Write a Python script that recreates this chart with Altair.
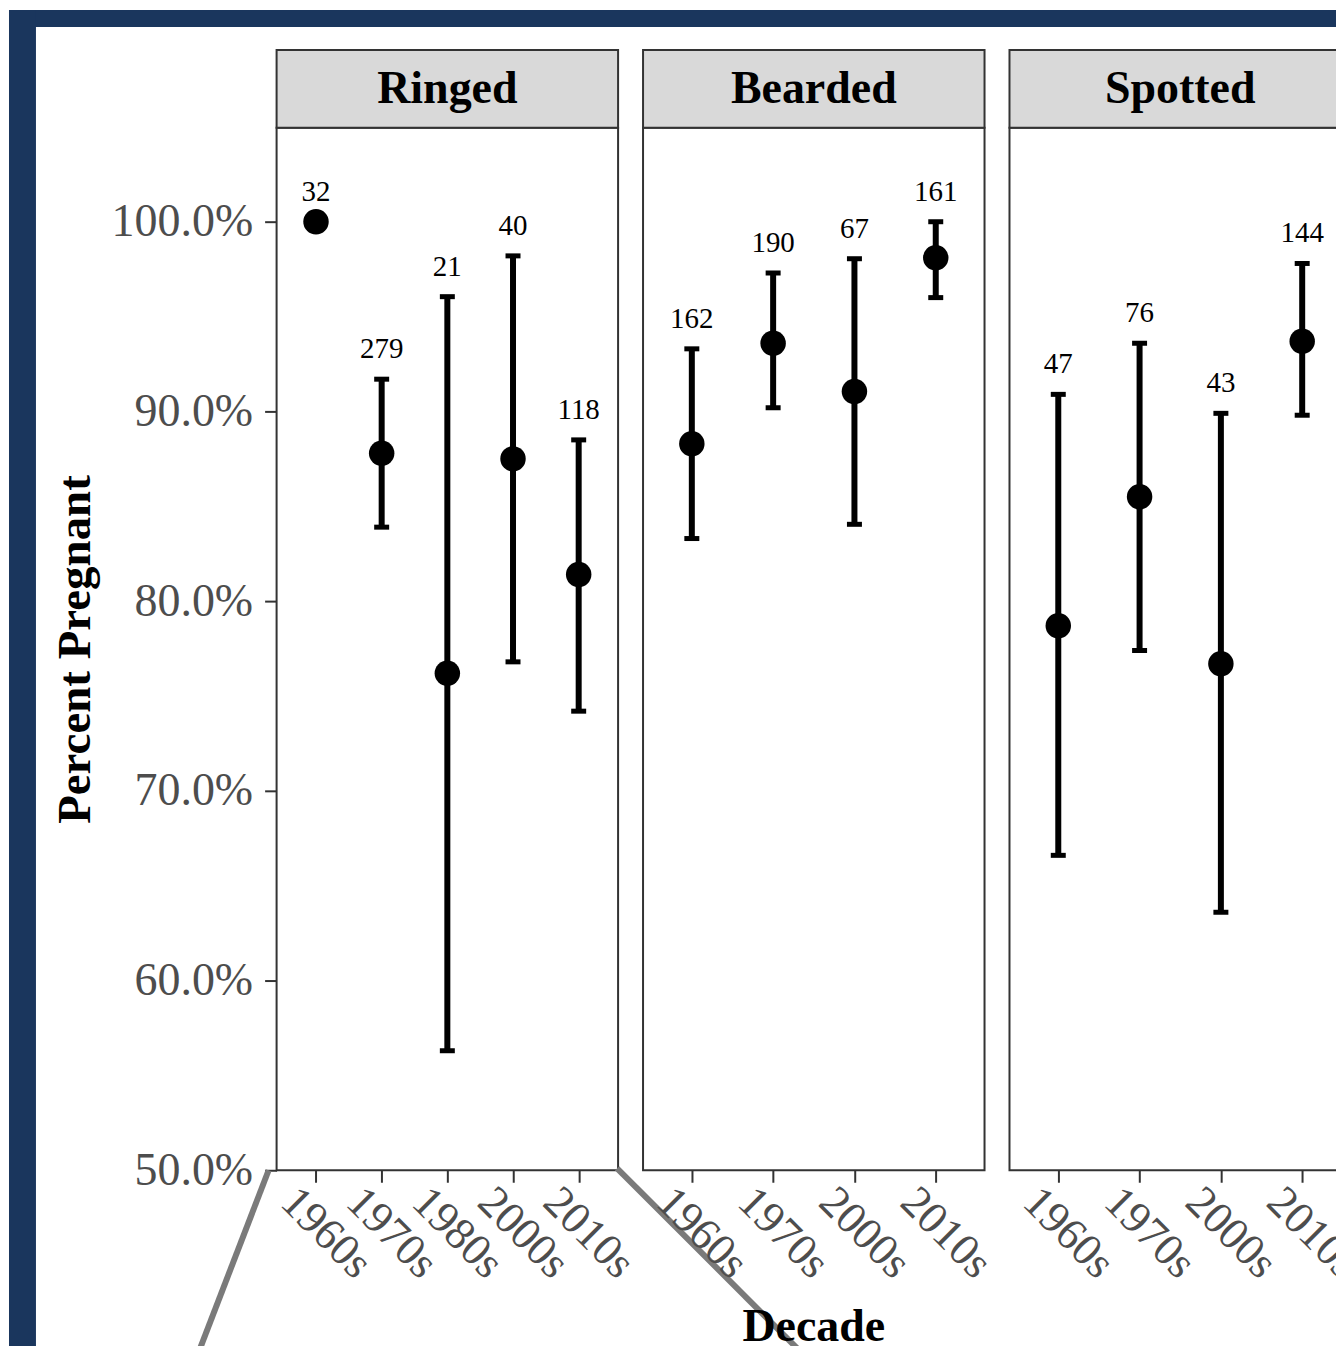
import altair as alt
import pandas as pd

NAVY = "#1a365d"
FONT = "Liberation Serif"

species = ["Ringed", "Bearded", "Spotted"]
all_decades = ["1960s", "1970s", "1980s", "2000s", "2010s"]

ringed_decades = ["1960s", "1970s", "1980s", "2000s", "2010s"]
ringed_est = [100.0, 87.8, 76.2, 87.5, 81.4]
ringed_lo = [100.0, 83.9, 56.3, 76.8, 74.2]
ringed_hi = [100.0, 91.7, 96.05, 98.2, 88.5]
ringed_n = [32, 279, 21, 40, 118]

bearded_decades = ["1960s", "1970s", "2000s", "2010s"]
bearded_est = [88.3, 93.6, 91.05, 98.1]
bearded_lo = [83.3, 90.2, 84.05, 96.0]
bearded_hi = [93.3, 97.3, 98.05, 100.0]
bearded_n = [162, 190, 67, 161]

spotted_decades = ["1960s", "1970s", "2000s", "2010s"]
spotted_est = [78.7, 85.5, 76.7, 93.7]
spotted_lo = [66.6, 77.4, 63.6, 89.8]
spotted_hi = [90.9, 93.6, 89.9, 97.8]
spotted_n = [47, 76, 43, 144]

y_ticks = [50, 60, 70, 80, 90, 100]

PW, PH, HH = 342, 1044, 78
LEFT, TOP = 268, 118           # frame offsets from the first panel's plot origin
RIGHT, BOTTOM = 1300, 1300     # far extents of the frame strips

frames = []
for sp, dec, est, lo, hi, n in [
    ("Ringed", ringed_decades, ringed_est, ringed_lo, ringed_hi, ringed_n),
    ("Bearded", bearded_decades, bearded_est, bearded_lo, bearded_hi, bearded_n),
    ("Spotted", spotted_decades, spotted_est, spotted_lo, spotted_hi, spotted_n),
]:
    frames.append(pd.DataFrame({"species": sp, "decade": dec, "est": est,
                                "lo": lo, "hi": hi, "n": n}))
df = pd.concat(frames, ignore_index=True)

x = alt.X("decade:N", sort=all_decades,
          scale=alt.Scale(type="point", padding=0.6),
          axis=alt.Axis(title=None, labelOverlap=False, labelBound=False, labelFlush=False))
yscale = alt.Scale(domain=[50, 104.95], nice=False, zero=False)
yaxis = alt.Axis(title="Percent Pregnant", values=y_ticks,
                 labelExpr="format(datum.value, '.1f') + '%'",
                 labelFlush=False, labelOverlap=False)


def Y(field):
    return alt.Y(field, scale=yscale, axis=yaxis)


base = alt.Chart()
one_per_panel = "datum.decade == '1960s'"
first_only = "datum.species == 'Ringed' && datum.decade == '1960s'"
middle_only = "datum.species == 'Bearded' && datum.decade == '1960s'"

# decorations: navy frame and grey callout lines (only in the first panel)
top_strip = base.mark_rect(color=NAVY).encode(
    x=alt.value(-LEFT), x2=alt.value(RIGHT), y=alt.value(-TOP), y2=alt.value(-101)
).transform_filter(first_only)
left_strip = base.mark_rect(color=NAVY).encode(
    x=alt.value(-LEFT), x2=alt.value(-241), y=alt.value(-TOP), y2=alt.value(BOTTOM)
).transform_filter(first_only)
left_line = base.mark_rule(color="#7a7a7a", strokeWidth=6).encode(
    x=alt.value(-8), y=alt.value(PH), x2=alt.value(-78), y2=alt.value(PH + 182)
).transform_filter(first_only)
right_line = base.mark_rule(color="#7a7a7a", strokeWidth=6).encode(
    x=alt.value(PW - 1), y=alt.value(PH - 2), x2=alt.value(PW + 190), y2=alt.value(PH + 189)
).transform_filter(first_only)

# strip headers
strip_bg = base.mark_rect(fill="#d9d9d9", stroke="#333333", strokeWidth=2).encode(
    x=alt.value(0), x2=alt.value(PW), y=alt.value(-HH), y2=alt.value(0)
).transform_filter(one_per_panel)
strip_txt = base.mark_text(font=FONT, fontSize=46, fontWeight="bold", color="black",
                           baseline="middle").encode(
    text="species:N", x=alt.value(PW / 2), y=alt.value(-HH / 2)
).transform_filter(one_per_panel)

# x-axis title, shown once under the middle panel
xtitle = base.mark_text(font=FONT, fontSize=46, fontWeight="bold", color="black",
                        baseline="alphabetic").encode(
    text=alt.value("Decade"), x=alt.value(PW / 2), y=alt.value(PH + 171)
).transform_filter(middle_only)

rule = base.mark_rule(color="black", strokeWidth=6).encode(x=x, y=Y("lo:Q"), y2="hi:Q")
cap_lo = base.mark_tick(color="black", size=15, thickness=5, opacity=1).encode(x=x, y=Y("lo:Q"))
cap_hi = base.mark_tick(color="black", size=15, thickness=5, opacity=1).encode(x=x, y=Y("hi:Q"))
pts = base.mark_circle(color="black", size=650, opacity=1).encode(x=x, y=Y("est:Q"))
txt = base.mark_text(color="black", font=FONT, fontSize=29, baseline="alphabetic",
                     dy=-21).encode(x=x, y=Y("hi:Q"), text="n:Q")

layered = alt.layer(
    top_strip, left_strip, left_line, right_line, strip_bg, strip_txt, xtitle,
    rule, cap_lo, cap_hi, pts, txt, data=df
).properties(width=PW, height=PH)

# natural size = (LEFT + RIGHT) x (TOP + BOTTOM); crop to the page like the reference
pad = alt.Padding(left=0, top=0, right=1328 - (LEFT + RIGHT), bottom=1336 - (TOP + BOTTOM))

chart = layered.facet(
    column=alt.Column("species:N", sort=species,
                      header=alt.Header(title=None, labels=False)),
    spacing=25,
).resolve_scale(x="independent").properties(
    bounds="flush", padding=pad, background="white"
).configure_view(
    stroke="#333333", strokeWidth=2, fill="white"
).configure_axis(
    labelFont=FONT, titleFont=FONT, labelColor="#4d4d4d", tickColor="#333333",
    tickWidth=2, tickSize=12, domain=False, grid=False, titleColor="black",
    titleFontWeight="bold"
).configure_axisX(
    labelAngle=45, labelAlign="left", labelBaseline="middle", labelFontSize=45,
    labelPadding=12, labelOffset=-28
).configure_axisY(
    labelFontSize=46, titleFontSize=47, labelPadding=12, titlePadding=12
)

chart.save("out.html", embed_options={"renderer": "svg", "actions": False})
